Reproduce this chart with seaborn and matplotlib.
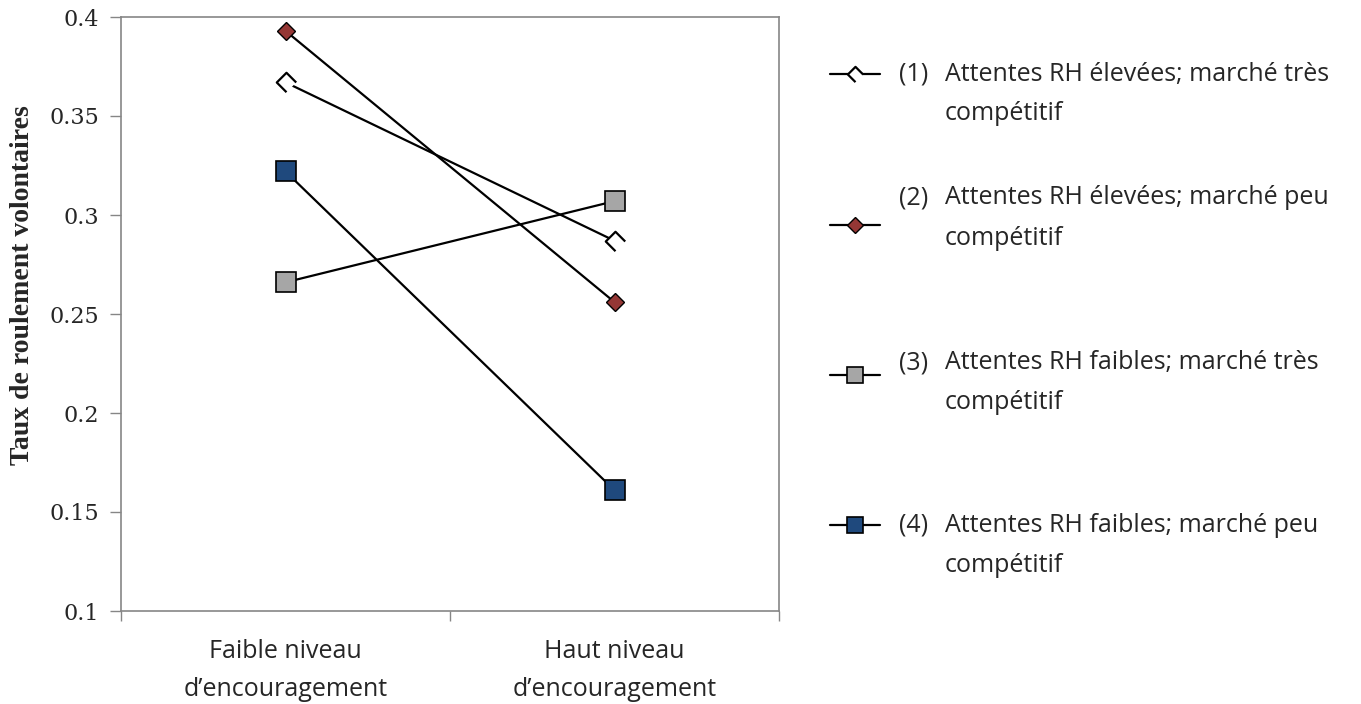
import numpy as np
import pandas as pd
import matplotlib
matplotlib.use("Agg")
import matplotlib.pyplot as plt
from matplotlib.lines import Line2D
from matplotlib.path import Path
from matplotlib.ticker import FixedLocator, NullFormatter
import seaborn as sns

categories = ["Faible niveau\nd\u2019encouragement", "Haut niveau\nd\u2019encouragement"]
s1_vals = [0.367, 0.287]
s2_vals = [0.393, 0.256]
s3_vals = [0.266, 0.307]
s4_vals = [0.322, 0.161]
series_labels = [
    ("(1)", "Attentes RH élevées; marché très", "compétitif"),
    ("(2)", "Attentes RH élevées; marché peu", "compétitif"),
    ("(3)", "Attentes RH faibles; marché très", "compétitif"),
    ("(4)", "Attentes RH faibles; marché peu", "compétitif"),
]

# open diamond with the bottom-right edge missing (Excel-style marker)
broken_diamond = Path([(0, -1), (-1, 0), (0, 1), (1, 0)],
                      [Path.MOVETO, Path.LINETO, Path.LINETO, Path.LINETO])

styles = [
    dict(marker=broken_diamond, markerfacecolor="white", markeredgecolor="black", markeredgewidth=1.6),
    dict(marker="D", markerfacecolor="#953735", markeredgecolor="black", markeredgewidth=1.0),
    dict(marker="s", markerfacecolor="#A6A6A6", markeredgecolor="black", markeredgewidth=1.2),
    dict(marker="s", markerfacecolor="#1F497D", markeredgecolor="black", markeredgewidth=1.2),
]
plot_sizes = [14, 9, 15, 15]
legend_sizes = [11, 8, 11, 11]

sns.set_theme(style="white")
serif = ["DejaVu Serif"]
serif_label = ["Liberation Serif", "DejaVu Serif"]
sans = ["Open Sans", "DejaVu Sans"]

W, H = 1361, 704
fig = plt.figure(figsize=(W / 100, H / 100), dpi=100)
ax = fig.add_axes([121 / W, 1 - 611 / H, (779 - 121) / W, (611 - 17) / H])

xpos = np.arange(len(categories)) + 0.5
for vals, st, ms in zip([s1_vals, s2_vals, s3_vals, s4_vals], styles, plot_sizes):
    df = pd.DataFrame({"x": xpos, "y": vals})
    sns.lineplot(data=df, x="x", y="y", ax=ax, color="black", linewidth=1.6, markersize=ms, **st)

ax.set_xlim(0, 2)
ax.set_ylim(0.1, 0.4)
ax.set_yticks(np.arange(0.1, 0.401, 0.05))
ax.set_yticklabels(["0.1", "0.15", "0.2", "0.25", "0.3", "0.35", "0.4"], fontfamily=serif, fontsize=16)
ax.xaxis.set_major_locator(FixedLocator([0, 1, 2]))
ax.xaxis.set_major_formatter(NullFormatter())
ax.xaxis.set_minor_locator(FixedLocator(list(xpos)))
ax.set_xticklabels(categories, minor=True, fontfamily=sans, fontsize=18, linespacing=1.7)
ax.tick_params(axis="x", which="major", direction="out", length=7, width=1, color="#868686", bottom=True)
ax.tick_params(axis="x", which="minor", length=0, pad=20)
ax.tick_params(axis="y", direction="out", length=8, width=1, color="#868686", left=True, pad=8)
for sp in ax.spines.values():
    sp.set_color("#868686")
    sp.set_linewidth(1.2)
ax.set_xlabel("")
ax.set_ylabel("Taux de roulement volontaires", fontfamily=serif_label, fontsize=20, fontweight="bold")
ax.yaxis.label.set_va("center")
ax.yaxis.set_label_coords((23 - 121) / 658, (611 - 285) / 594)

# legend drawn at the right, one entry per series
handle_y = [74, 225, 375, 525]
text_y = [74, 198, 363, 525]
for (num, l1, l2), st, ms, hy, ty in zip(series_labels, styles, legend_sizes, handle_y, text_y):
    fy = 1 - hy / H
    fig.add_artist(Line2D([830 / W, 880 / W], [fy, fy], transform=fig.transFigure,
                          color="black", linewidth=1.6))
    fig.add_artist(Line2D([855 / W], [fy], transform=fig.transFigure, linestyle="none",
                          markersize=ms, **st))
    t1 = 1 - ty / H
    t2 = 1 - (ty + 40) / H
    fig.text(899 / W, t1, num, fontfamily=sans, fontsize=18, va="center")
    fig.text(945 / W, t1, l1, fontfamily=sans, fontsize=18, va="center")
    fig.text(945 / W, t2, l2, fontfamily=sans, fontsize=18, va="center")

fig.savefig("out.png", dpi=100)
